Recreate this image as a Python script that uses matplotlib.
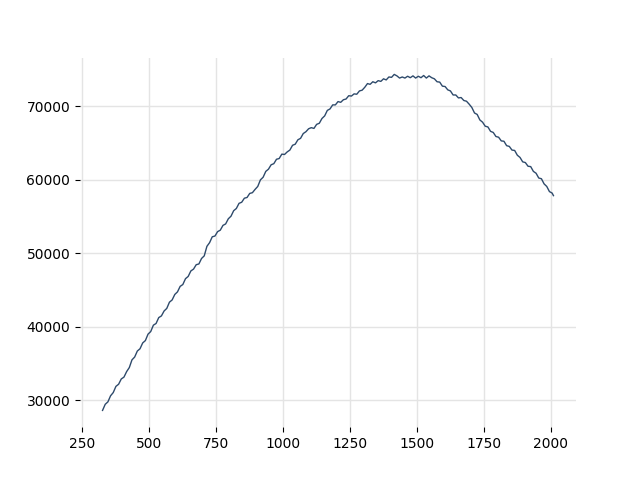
import matplotlib
matplotlib.use("Agg")
import matplotlib.pyplot as plt

# x positions (every 10 units) and values
xs = list(range(325, 2006, 10)) + [2010]
ys = [
    28620, 29450, 29780, 30610, 31050, 31890, 32180, 32900, 33150, 33900,
    34450, 35500, 35880, 36700, 37010, 37800, 38120, 39000, 39350, 40220,
    40450, 41250, 41480, 42150, 42500, 43350, 43650, 44400, 44750, 45500,
    45750, 46550, 46850, 47600, 47850, 48450, 48550, 49300, 49650, 50950,
    51450, 52250, 52350, 52950, 53150, 53800, 54000, 54700, 55050, 55800,
    56100, 56800, 56950, 57500, 57600, 58150, 58250, 58700, 59100, 60000,
    60350, 61150, 61450, 62050, 62200, 62800, 62900, 63500, 63450, 63800,
    64050, 64700, 64850, 65450, 65650, 66300, 66550, 66950, 67100, 67000,
    67550, 67700, 68350, 68700, 69450, 69650, 70200, 70200, 70650, 70550,
    70900, 71000, 71450, 71400, 71700, 71650, 72100, 72200, 72600, 73100,
    73000, 73350, 73200, 73500, 73400, 73750, 73600, 74000, 73950, 74350,
    74150, 73850, 74000, 73850, 74100, 73900, 74150, 73850, 74100, 73900,
    74200, 73850, 74150, 73900, 73750, 73350, 73300, 72750, 72700, 72250,
    72100, 71550, 71550, 71150, 71200, 70800, 70700, 70300, 69850, 69100,
    68900, 68150, 67850, 67300, 67200, 66600, 66450, 65900, 65800, 65300,
    65250, 64650, 64550, 64050, 64000, 63350, 63050, 62450, 62350, 61850,
    61800, 61150, 60900, 60250, 60150, 59450, 59100, 58400, 58200,
    57850,
]

fig, ax = plt.subplots(figsize=(6.4, 4.8), dpi=100)
ax.plot(xs, ys, color='#2e4a6b', linewidth=1.0)

ax.set_xticks([250, 500, 750, 1000, 1250, 1500, 1750, 2000])
ax.set_yticks([30000, 40000, 50000, 60000, 70000])
ax.grid(True, color='#e4e4e4', linewidth=1)
ax.set_axisbelow(True)
for s in ax.spines.values():
    s.set_visible(False)

plt.savefig('out.png')
